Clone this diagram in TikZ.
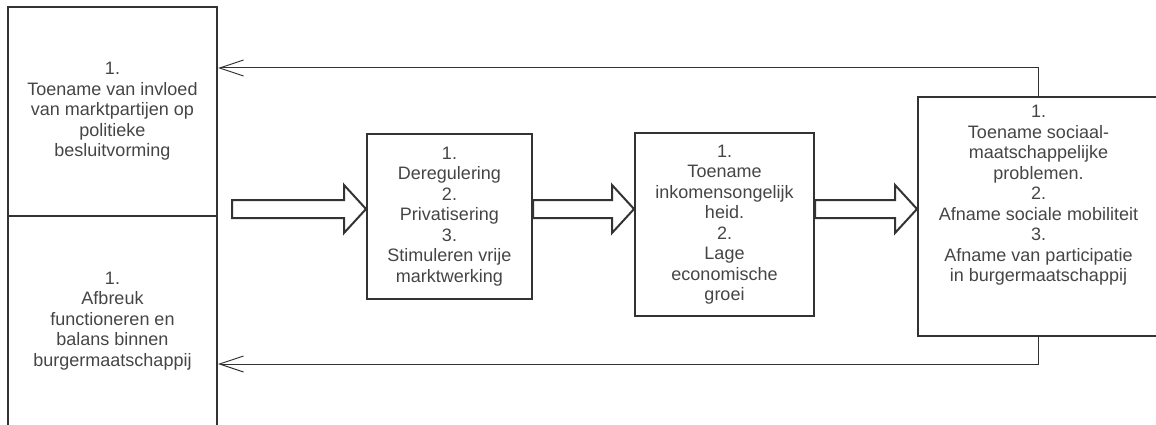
\documentclass[tikz,border=0pt]{standalone}
\usepackage{fontspec}
\setmainfont{Liberation Sans}
\usetikzlibrary{positioning,calc,arrows.meta}
\definecolor{lijngrijs}{rgb}{0.2, 0.2, 0.2}
\definecolor{tekstgrijs}{rgb}{0.27, 0.27, 0.27}
\tikzset{%
  blok tekst/.style={
    align=center,
    text=tekstgrijs,
    font=\fontsize{18}{20.5}\selectfont,
    inner sep=0pt
  },
  every blok/.style={
    blok tekst,
    draw=lijngrijs,
    line width=2pt
  },
  terug/.style={
    draw=lijngrijs,
    line width=1pt,
    -{Straight Barb[length=24pt,width=16pt]}
  },
  dik/.style={draw=lijngrijs, line width=2pt, fill=white},
}
\newcommand{\dikpijl}[2]{%
  \draw[dik] let \p1=(#1), \p2=(#2) in
    (\x1,\y1+9pt) -- (\x2-22pt,\y1+9pt) -- (\x2-22pt,\y1+24pt) -- (\x2,\y1)
    -- (\x2-22pt,\y1-24pt) -- (\x2-22pt,\y1-9pt) -- (\x1,\y1-9pt) -- cycle;}

\begin{document}
\begin{tikzpicture}[x=1pt, y=1pt]
            \useasboundingbox (0,0) rectangle (1156,424);
            \clip (0,0) rectangle (1156,424);

            \node [every blok, minimum width=209, minimum height=209] (invloed) at (112.5,312.5)
              {1.\\Toename van invloed\\van marktpartijen op\\politieke\\besluitvorming};
            \node [every blok, minimum width=209, minimum height=210] (afbreuk) at (112.5,103)
              {1.\\Afbreuk\\functioneren en\\balans binnen\\burgermaatschappij};
            \node [every blok, minimum width=165, minimum height=165] (beleid) at (449.5,207.5)
              {1.\\Deregulering\\2.\\Privatisering\\3.\\Stimuleren vrije\\marktwerking};
            \node [every blok, minimum width=179, minimum height=183] (ongelijkheid) at (724.5,199.5)
              {1.\\Toename\\inkomensongelijk\\heid.\\2.\\Lage\\economische\\groei};
            \node [every blok, minimum width=241, minimum height=239,
                   label={[blok tekst, anchor=north, yshift=-9pt]north:{1.\\Toename sociaal-\\maatschappelijke\\problemen.\\2.\\Afname sociale mobiliteit\\3.\\Afname van participatie\\in burgermaatschappij}}]
              (gevolgen) at (1038.5,207.5) {};

            \coordinate (start) at (232,215);
            \dikpijl{start}{beleid.west}
            \dikpijl{beleid.east |- start}{ongelijkheid.west}
            \dikpijl{ongelijkheid.east |- start}{gevolgen.west}

            \draw [terug] (gevolgen.north) |- ([yshift=43.5pt]invloed.east);
            \draw [terug] (gevolgen.south) |- ([yshift=-43pt]afbreuk.east);
\end{tikzpicture}
\end{document}
